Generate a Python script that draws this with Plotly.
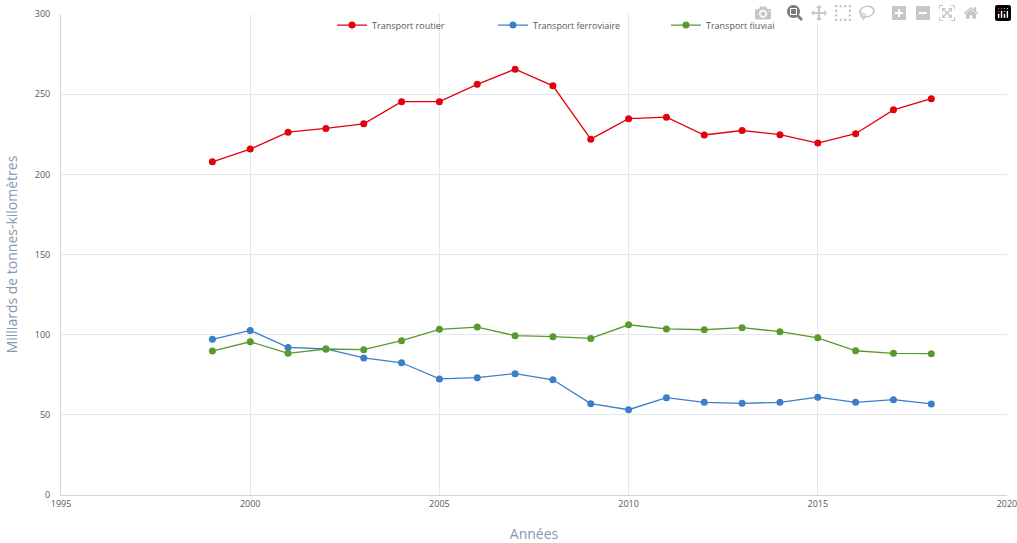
import plotly.graph_objects as go

years = list(range(1999, 2019))
routier = [207.9, 215.8, 226.4, 228.7, 231.6, 245.4, 245.4, 256.2, 265.7, 255.3,
           222.0, 234.8, 235.7, 224.6, 227.4, 224.8, 219.6, 225.4, 240.3, 247.3]
ferroviaire = [97.1, 102.7, 92.1, 91.1, 85.5, 82.5, 72.4, 73.2, 75.7, 71.9,
               57.0, 53.2, 60.7, 57.8, 57.2, 57.8, 61.0, 57.8, 59.5, 56.8]
fluvial = [89.8, 95.6, 88.4, 91.1, 90.7, 96.3, 103.4, 104.8, 99.4, 98.8,
           97.7, 106.2, 103.6, 103.1, 104.4, 101.9, 98.1, 90.0, 88.4, 88.2]

series_names = ["Transport routier", "Transport ferroviaire", "Transport fluvial"]
colors = ["#E3000F", "#3A7FC9", "#5A9A2C"]
legend_ids = ["legend", "legend2", "legend3"]
legend_x = [0.2865, 0.4566, 0.6395]

x_ticks = [1995, 2000, 2005, 2010, 2015, 2020]
y_ticks = [0, 50, 100, 150, 200, 250, 300]

fig = go.Figure()
for name, vals, col, lg in zip(series_names, [routier, ferroviaire, fluvial], colors, legend_ids):
    fig.add_trace(go.Scatter(
        x=years, y=vals, name=name, mode="lines+markers",
        line=dict(color=col, width=1.3),
        marker=dict(color=col, size=7),
        legend=lg,
    ))

font_family = "Open Sans, Liberation Sans, sans-serif"
legend_common = dict(orientation="h", yanchor="middle", y=0.977, xanchor="left",
                     bgcolor="rgba(0,0,0,0)", font=dict(family=font_family, size=9, color="#595959"))

layout_legends = {}
for lg, lx in zip(legend_ids, legend_x):
    d = dict(legend_common)
    d["x"] = lx
    layout_legends[lg] = d

fig.update_layout(
    width=1017, height=543,
    margin=dict(l=61, r=10, t=14, b=48),
    plot_bgcolor="white", paper_bgcolor="white",
    font=dict(family=font_family, color="#595959"),
    showlegend=True,
    xaxis=dict(range=[1994.999, 2020.001], tickvals=x_ticks, showgrid=True, gridcolor="#E3E6EC",
               gridwidth=1, showline=True, linecolor="#D0D6E0", linewidth=1, zeroline=False,
               tickfont=dict(size=9, color="#595959"), ticks="", automargin=False,
               ticklabelstandoff=0, ticklabeloverflow="allow",
               title=dict(text="Années", font=dict(size=14, color="#8497B0"), standoff=23)),
    yaxis=dict(range=[0, 300.1], tickvals=y_ticks, showgrid=True, gridcolor="#E3E6EC",
               gridwidth=1, showline=True, linecolor="#D0D6E0", linewidth=1, zeroline=False,
               tickfont=dict(size=9, color="#595959"), ticks="", automargin=False,
               ticklabelstandoff=8, ticklabeloverflow="allow",
               title=dict(text="Milliards de tonnes-kilomètres", font=dict(size=14, color="#8497B0"), standoff=13)),
    **layout_legends,
)

fig.write_html("out.html",
               post_script="document.body.style.margin='0px';document.body.style.overflow='hidden';")
